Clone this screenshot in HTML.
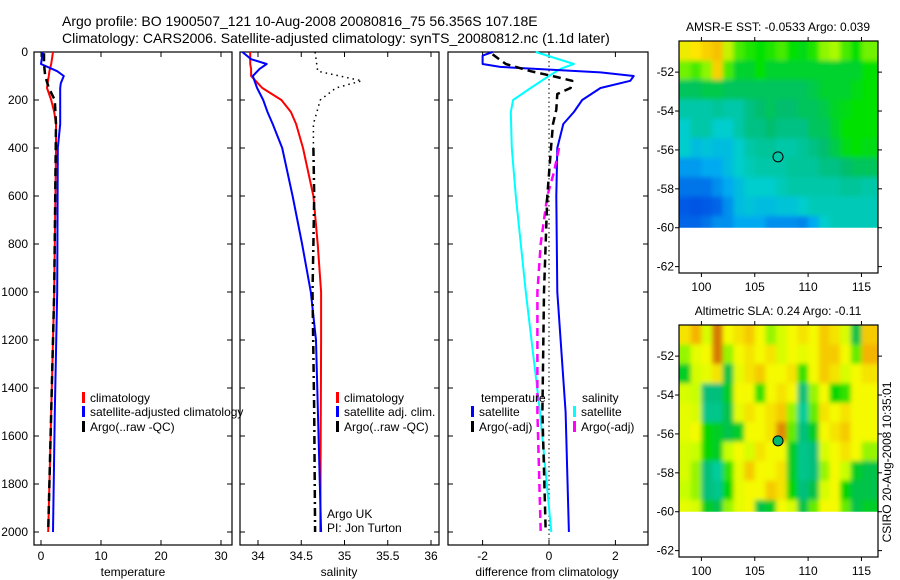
<!DOCTYPE html>
<html><head><meta charset="utf-8"><style>
html,body{margin:0;padding:0;background:#fff;}
svg{display:block;font-family:"Liberation Sans",sans-serif;}
</style></head><body>
<svg id="fig" width="900" height="580" viewBox="0 0 900 580">
<defs>
<filter id="blur" x="0" y="0" width="1" height="1"><feGaussianBlur stdDeviation="2.5" edgeMode="duplicate"/></filter>
<clipPath id="clipTop"><rect x="679" y="41" width="199" height="186.7"/></clipPath>
<clipPath id="clipBot"><rect x="679" y="325" width="199" height="186.7"/></clipPath>
</defs>
<text x="62" y="26" font-size="14">Argo profile: BO 1900507_121 10-Aug-2008 20080816_75 56.356S 107.18E</text>
<text x="62" y="43" font-size="14">Climatology: CARS2006. Satellite-adjusted climatology: synTS_20080812.nc (1.1d later)</text>
<g id="layer"></g>
</svg>
<script>
// ---- data ----
var depthT=[0,50,80,100,130,150,200,250,300,400,1000,1500,2000];
var tempClim=[2.0,1.7,1.4,1.3,1.1,1.0,1.7,2.2,2.5,2.5,2.2,1.7,1.2];
var tempSat=[0.3,0.0,2.7,3.8,3.3,3.2,3.2,3.2,3.2,2.8,2.7,2.3,2.0];
var depthArgoT=[5,50,100,150,200,300,1000,1500,2000];
var tempArgo=[0.5,0.5,0.7,1.3,2.3,2.5,2.2,1.7,1.2];
var depthS=[0,30,50,70,100,150,200,250,300,400,600,800,1000,1200,2000];
var salClim=[33.91,33.91,33.91,33.92,33.92,34.05,34.27,34.38,34.44,34.52,34.64,34.69,34.73,34.73,34.72];
var salSat=[33.82,33.92,34.1,34.02,33.94,33.99,34.06,34.11,34.17,34.28,34.4,34.51,34.61,34.67,34.73];
var depthArgoS=[400,600,800,1000,1500,2000];
var salArgo=[34.64,34.65,34.64,34.63,34.65,34.66];
var depthRawS=[0,80,120,150,200,300,400];
var salRaw=[34.66,34.69,35.2,34.9,34.72,34.64,34.64];
var depthD=[0,15,50,62,85,100,120,150,200,250,300,400,600,1000,1500,2000];
var diffTSat=[-1.7,-2.0,-2.0,-1.47,1.55,2.55,2.45,1.55,1.0,0.75,0.43,0.25,0.22,0.25,0.5,0.6];
var depthDS=[0,50,70,100,150,200,250,400,600,800,1000,1500,2000];
var diffSSat=[-0.4,0.75,0.35,0.0,-0.55,-1.08,-1.15,-1.12,-1.0,-0.85,-0.7,-0.27,0.07];
var depthDA=[10,50,80,100,120,150,175,240,300,400,600,1000,1500,2000];
var diffTArgo=[-1.7,-1.3,-0.55,0.1,0.7,0.65,0.25,0.22,0.12,0.06,-0.05,-0.15,-0.2,-0.1];
var depthDAS=[400,500,600,800,1000,1500,2000];
var diffSArgo=[0.3,0.15,-0.05,-0.25,-0.35,-0.35,-0.25];
var depthTicks=[0,200,400,600,800,1000,1200,1400,1600,1800,2000];
var tempTicks=[0,10,20,30];
var salTicks=["34","34.5","35","35.5","36"];
var diffTicks=[-2,0,2];
var lonTicks=[100,105,110,115];
var latTicks=[-52,-54,-56,-58,-60,-62];
var sstGrid=[
[0.9,0.92,0.95,0.97,0.85,0.75,0.72,0.7,0.72,0.75,0.7,0.68,0.72,0.8,0.82,0.75,0.7,0.78],
[0.78,0.75,0.8,0.95,0.75,0.65,0.65,0.7,0.65,0.65,0.65,0.65,0.65,0.65,0.65,0.65,0.65,0.7],
[0.6,0.6,0.62,0.62,0.6,0.6,0.6,0.6,0.6,0.6,0.6,0.6,0.62,0.65,0.65,0.65,0.68,0.7],
[0.5,0.5,0.5,0.52,0.5,0.5,0.55,0.58,0.6,0.58,0.58,0.6,0.6,0.62,0.66,0.68,0.7,0.7],
[0.45,0.5,0.5,0.45,0.45,0.5,0.55,0.55,0.58,0.55,0.55,0.55,0.6,0.6,0.65,0.7,0.7,0.7],
[0.45,0.4,0.42,0.4,0.4,0.45,0.5,0.52,0.52,0.5,0.5,0.52,0.55,0.58,0.62,0.68,0.7,0.68],
[0.32,0.32,0.35,0.35,0.4,0.45,0.48,0.5,0.5,0.5,0.52,0.52,0.52,0.55,0.55,0.58,0.6,0.6],
[0.25,0.25,0.25,0.3,0.35,0.4,0.45,0.45,0.45,0.48,0.5,0.5,0.5,0.5,0.5,0.52,0.52,0.5],
[0.2,0.18,0.2,0.22,0.3,0.4,0.42,0.4,0.4,0.42,0.42,0.45,0.48,0.48,0.48,0.48,0.48,0.48],
[0.22,0.22,0.25,0.3,0.3,0.35,0.35,0.35,0.3,0.3,0.3,0.28,0.35,0.45,0.48,0.48,0.48,0.48]];
var slaGrid=[
[0.75,0.85,0.6,0.95,0.7,0.75,0.8,0.7,0.5,0.6,0.7,0.75,0.7,0.8,0.75,0.6,0.25,0.8],
[0.5,0.65,0.7,0.95,0.5,0.7,0.75,0.7,0.75,0.6,0.7,0.65,0.7,0.8,0.8,0.7,0.45,0.85],
[0.3,0.6,0.65,0.75,0.25,0.65,0.75,0.8,0.7,0.7,0.75,0.4,0.7,0.8,0.75,0.6,0.7,0.75],
[0.6,0.55,0.15,0.15,0.3,0.7,0.7,0.4,0.7,0.75,0.7,0.15,0.5,0.7,0.35,0.4,0.7,0.7],
[0.65,0.6,0.1,0.1,0.25,0.65,0.75,0.7,0.75,0.8,0.5,0.05,0.45,0.75,0.7,0.75,0.7,0.7],
[0.65,0.7,0.35,0.3,0.25,0.3,0.7,0.7,0.75,0.92,0.45,0.15,0.3,0.7,0.75,0.8,0.7,0.7],
[0.6,0.55,0.35,0.3,0.55,0.7,0.6,0.75,0.7,0.7,0.3,0.1,0.15,0.6,0.7,0.75,0.7,0.5],
[0.6,0.5,0.15,0.05,0.4,0.65,0.8,0.7,0.7,0.75,0.3,0.1,0.15,0.5,0.7,0.55,0.3,0.25],
[0.55,0.5,0.15,0.1,0.35,0.65,0.7,0.7,0.8,0.75,0.35,0.15,0.25,0.6,0.7,0.35,0.25,0.25],
[0.65,0.6,0.3,0.25,0.5,0.65,0.7,0.25,0.3,0.7,0.6,0.25,0.45,0.7,0.7,0.45,0.25,0.3]];
var argoLon=107.18, argoLat=-56.356;

// ---- helpers ----
var NS="http://www.w3.org/2000/svg";
var L=document.getElementById('layer');
function mk(tag,attrs,parent){var e=document.createElementNS(NS,tag);for(var k in attrs)e.setAttribute(k,attrs[k]);(parent||L).appendChild(e);return e;}
function txt(x,y,s,size,anchor){var t=mk('text',{x:x,y:y,'font-size':size||12,'text-anchor':anchor||'start'});t.textContent=s;return t;}
var yD=function(d){return 52+0.24*d;};
var xT=function(v){return 41+6*v;};
var xS=function(v){return 258+86.5*(v-34);};
var xD=function(v){return 549+33.2*v;};
function line(xs,ys,xf,color,w,dash,name){
  var p=xs.map(function(v,i){return xf(v).toFixed(1)+','+yD(ys[i]).toFixed(1);}).join(' ');
  var e=mk('polyline',{points:p,fill:'none',stroke:color,'stroke-width':w,'stroke-linejoin':'round'});
  if(dash)e.setAttribute('stroke-dasharray',dash);
  
  
}
function panel(x0,x1,name){
  var r=mk('rect',{x:x0,y:52,width:x1-x0,height:493,fill:'none',stroke:'#000','stroke-width':1.2});
  
  
  depthTicks.forEach(function(d){var y=yD(d);mk('line',{x1:x0,y1:y,x2:x0+5,y2:y,stroke:'#000'});mk('line',{x1:x1,y1:y,x2:x1-5,y2:y,stroke:'#000'});});
}
panel(34,232,'temperature-panel');
panel(240,439,'salinity-panel');
panel(448,648,'difference-panel');
depthTicks.forEach(function(d){var t=txt(28,yD(d)+4,String(d),12,'end');});
tempTicks.forEach(function(v){var x=xT(v);mk('line',{x1:x,y1:545,x2:x,y2:540,stroke:'#000'});mk('line',{x1:x,y1:52,x2:x,y2:57,stroke:'#000'});var t=txt(x,560,String(v),12,'middle');});
salTicks.forEach(function(s){var x=xS(parseFloat(s));mk('line',{x1:x,y1:545,x2:x,y2:540,stroke:'#000'});mk('line',{x1:x,y1:52,x2:x,y2:57,stroke:'#000'});var t=txt(x,560,s,12,'middle');});
diffTicks.forEach(function(v){var x=xD(v);mk('line',{x1:x,y1:545,x2:x,y2:540,stroke:'#000'});mk('line',{x1:x,y1:52,x2:x,y2:57,stroke:'#000'});var t=txt(x,560,String(v),12,'middle');});
var a;
a=txt(133,576,'temperature',12,'middle');
a=txt(339,576,'salinity',12,'middle');
a=txt(547,576,'difference from climatology',12,'middle');

// profiles
line(tempClim,depthT,xT,'#f00',2,null,'temp-climatology-line');
line(tempSat,depthT,xT,'#00f',2,null,'temp-satellite-line');
line(tempArgo,depthArgoT,xT,'#000',2.5,'8,5','temp-argo-line');
line(salRaw,depthRawS,xS,'#000',1.5,'1.5,4','sal-argo-raw-line');
line(salClim,depthS,xS,'#f00',2,null,'sal-climatology-line');
line(salSat,depthS,xS,'#00f',2,null,'sal-satellite-line');
line(salArgo,depthArgoS,xS,'#000',2.5,'8,4,2,4','sal-argo-line');
var z=mk('line',{x1:xD(0),y1:52,x2:xD(0),y2:545,stroke:'#000','stroke-width':1,'stroke-dasharray':'1.5,3'});

line(diffSSat,depthDS,xD,'#0ff',2,null,'diff-sal-satellite-line');
line(diffTSat,depthD,xD,'#00f',2,null,'diff-temp-satellite-line');
line(diffSArgo,depthDAS,xD,'#f0f',2.5,'8,5','diff-sal-argo-line');
line(diffTArgo,depthDA,xD,'#000',2.5,'8,5','diff-temp-argo-line');

// legends
function leg(x,y,color,label,name){var b=mk('rect',{x:x,y:y-10,width:3,height:11,fill:color});var t=txt(x+8,y,label,12);}
leg(82,402,'#f00','climatology','legend-temp-climatology');
leg(82,416,'#00f','satellite-adjusted climatology','legend-temp-satellite');
leg(82,431,'#000','Argo(..raw -QC)','legend-temp-argo');
leg(336,402,'#f00','climatology','legend-sal-climatology');
leg(336,416,'#00f','satellite adj. clim.','legend-sal-satellite');
leg(336,431,'#000','Argo(..raw -QC)','legend-sal-argo');
a=txt(481,402,'temperature',12);
a=txt(582,402,'salinity',12);
leg(471,416,'#00f','satellite','legend-diff-temp-satellite');
leg(471,431,'#000','Argo(-adj)','legend-diff-temp-argo');
leg(573,416,'#0ff','satellite','legend-diff-sal-satellite');
leg(573,431,'#f0f','Argo(-adj)','legend-diff-sal-argo');
a=txt(327,518,'Argo UK',12);
a=txt(327,532,'PI: Jon Turton',12);

// maps
function lerpCol(stops,v){for(var i=1;i<stops.length;i++){if(v<=stops[i][0]){var s0=stops[i-1],s1=stops[i],f=(v-s0[0])/(s1[0]-s0[0]);return 'rgb('+[1,2,3].map(function(k){return Math.round(s0[k]+f*(s1[k]-s0[k]));}).join(',')+')';}}var l=stops[stops.length-1];return 'rgb('+l[1]+','+l[2]+','+l[3]+')';}
var sstStops=[[0,0,40,200],[0.2,0,90,230],[0.35,0,170,240],[0.45,0,205,205],[0.58,0,190,110],[0.7,0,225,0],[0.82,170,250,0],[0.92,255,230,0],[1,240,170,0]];
var slaStops=[[0,0,210,170],[0.2,0,185,110],[0.35,0,215,0],[0.55,200,255,0],[0.7,245,250,0],[0.85,245,180,0],[1,200,90,0]];
function map(y0,grid,stops,title,name,clip,filled){
  var x0=679,x1=878,y1=y0+232;
  var lx=function(lon){return x0+(lon-97.9)*10.67;};
  var ly=function(lat){return y0+(-50.4-lat)*19.45;};
  var outer=mk('g',{'clip-path':'url(#'+clip+')'});
  var g=mk('g',{filter:'url(#blur)'},outer);
  
  
  grid.forEach(function(row,i){row.forEach(function(v,j){if(v===null)return;
    var la0=-50.4-i,la1=la0-1;if(i==0)la0=-49.5;if(i==grid.length-1)la1=-61;var lo0=98+j,lo1=(j==17?117.5:lo0+1);if(j==0)lo0=96.5;
    var c=mk('rect',{x:lx(lo0).toFixed(1),y:ly(la0).toFixed(1),width:(lx(lo1)-lx(lo0)+0.5).toFixed(1),height:(ly(la1)-ly(la0)+0.5).toFixed(1),fill:lerpCol(stops,v)},g);
    
    
  });});
  mk('rect',{x:x0,y:y0,width:x1-x0,height:y1-y0,fill:'none',stroke:'#000','stroke-width':1.2});
  lonTicks.forEach(function(l){var x=lx(l);mk('line',{x1:x,y1:y1,x2:x,y2:y1+4,stroke:'#000'});mk('line',{x1:x,y1:y0,x2:x,y2:y0-4,stroke:'#000'});var t=txt(x,y1+18,String(l),12,'middle');});
  latTicks.forEach(function(l){var y=ly(l);mk('line',{x1:x0,y1:y,x2:x0-4,y2:y,stroke:'#000'});mk('line',{x1:x1,y1:y,x2:x1+4,y2:y,stroke:'#000'});var t=txt(x0-5,y+4,String(l),12,'end');});
  var c=mk('circle',{cx:lx(argoLon),cy:ly(argoLat),r:5,fill:filled||'none',stroke:'#000','stroke-width':1});
  
  var t=txt(778,y0-10,title,12,'middle');
}
map(41,sstGrid,sstStops,'AMSR-E SST: -0.0533 Argo: 0.039','sst-map','clipTop');
map(325,slaGrid,slaStops,'Altimetric SLA: 0.24  Argo: -0.11','sla-map','clipBot','rgb(0,185,110)');
a=txt(0,0,'CSIRO 20-Aug-2008 10:35:01',12,'middle');a.setAttribute('transform','translate(891,462) rotate(-90)');

</script>
</body></html>
